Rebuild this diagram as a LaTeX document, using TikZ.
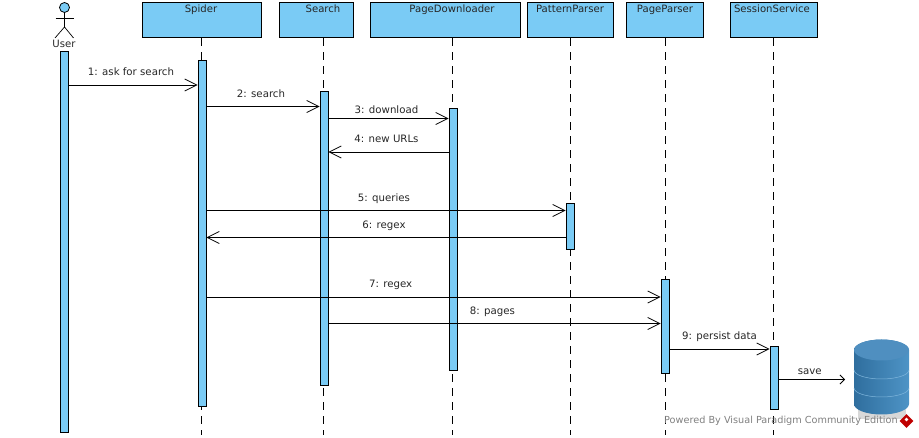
\documentclass[tikz,border=0pt]{standalone}
\usepackage{fontspec}
\setmainfont{DejaVu Sans}
\usetikzlibrary{arrows.meta,shapes.geometric}
\definecolor{vpblue}{HTML}{7ACBF5}
\definecolor{dbdark}{HTML}{2F6E9E}
\definecolor{dblight}{HTML}{4E94C6}
\definecolor{dbtop}{HTML}{4F8FC0}
\definecolor{dbline}{HTML}{7FB6DC}
\tikzset{
  lifebox/.style={draw=black,fill=vpblue,line width=0.9pt,anchor=north west,inner sep=0pt},
  boxlabel/.style={font=\fontsize{10.1}{12}\selectfont,text=black!85,anchor=base,inner sep=0pt},
  bar/.style={draw=black,fill=vpblue,line width=0.9pt,inner sep=0pt,anchor=north,minimum width=8pt},
  lifeline/.style={draw=black,line width=0.8pt,dash pattern=on 8pt off 6pt},
  msg/.style={draw=black,line width=0.8pt,-{Straight Barb[length=12pt,width=12pt,line width=0.8pt]}},
  msgsmall/.style={draw=black,line width=0.8pt,-{Straight Barb[length=4.5pt,width=9pt,line width=0.8pt]}},
  msglabel/.style={font=\fontsize{10.2}{12}\selectfont,text=black!85,above,inner sep=0pt,text depth=0pt,yshift=9pt,xshift=-2pt}
}
\begin{document}
\begin{tikzpicture}[x=1pt,y=-1pt]
  \useasboundingbox (0,0) rectangle (919,438);

  % lifeline heads
  \node [lifebox,minimum width=119pt,minimum height=35pt] (spider) at (142,2.5) {};
  \node [lifebox,minimum width=74pt,minimum height=35pt] (search) at (279,2.5) {};
  \node [lifebox,minimum width=150pt,minimum height=35pt] (down) at (370,2.5) {};
  \node [lifebox,minimum width=86pt,minimum height=35pt] (pattern) at (527,2.5) {};
  \node [lifebox,minimum width=77pt,minimum height=35pt] (parser) at (626,2.5) {};
  \node [lifebox,minimum width=87pt,minimum height=35pt] (session) at (730,2.5) {};

  \node [boxlabel] at (201,13) {Spider};
  \node [boxlabel] at (323,13) {Search};
  \node [boxlabel] at (452,13) {PageDownloader};
  \node [boxlabel] at (570,13) {PatternParser};
  \node [boxlabel] at (665,13) {PageParser};
  \node [boxlabel] at (772,13) {SessionService};

  % dashed lines
  \coordinate (end) at (0,435);
  \draw [lifeline] (spider.south -| 201,0) -- (201,0 |- end);
  \draw [lifeline] (search.south -| 323,0) -- (323,0 |- end);
  \draw [lifeline] (down.south -| 452.5,0) -- (452.5,0 |- end);
  \draw [lifeline] (pattern.south -| 570,0) -- (570,0 |- end);
  \draw [lifeline] (parser.south -| 665,0) -- (665,0 |- end);
  \draw [lifeline] (session.south -| 773,0) -- (773,0 |- end);

  % activation bars
  \node [bar,minimum height=381pt] (userbar) at (64,51.5) {};
  \node [bar,minimum height=346pt] (spiderbar) at (202,60.5) {};
  \node [bar,minimum height=294pt] (searchbar) at (324,91) {};
  \node [bar,minimum height=262pt] (downbar) at (453,108.5) {};
  \node [bar,minimum height=46pt] (patternbar) at (570,203) {};
  \node [bar,minimum height=94pt] (parserbar) at (665,279) {};
  \node [bar,minimum height=63pt] (sessionbar) at (774,346) {};

  % actor
  \node [circle,draw=black,fill=vpblue,line width=0.8pt,minimum size=10pt,inner sep=0pt] (head) at (64.5,7.5) {};
  \coordinate (hip) at (64.5,27);
  \coordinate (armleft) at (55.5,18.5);
  \coordinate (armright) at (73.5,18.5);
  \coordinate (footleft) at (55,38);
  \coordinate (footright) at (73.5,38);
  \draw [line width=0.7pt] (head) -- (hip);
  \draw [line width=0.7pt] (armleft) -- (armright);
  \draw [line width=0.7pt] (footleft) -- (hip) -- (footright);
  \node [boxlabel] (user) at (64,48) {User};

  % messages
  \coordinate (m1) at (0,85);
  \coordinate (m2) at (0,106.5);
  \coordinate (m3) at (0,118.5);
  \coordinate (m4) at (0,152);
  \coordinate (m5) at (0,210.5);
  \coordinate (m6) at (0,237.5);
  \coordinate (m7) at (0,297);
  \coordinate (m8) at (0,323.5);
  \coordinate (m9) at (0,349);
  \coordinate (m10) at (0,379.5);
  \coordinate (dbend) at (845,0);

  \draw [msg] (userbar.east |- m1) -- node [msglabel] {1: ask for search} (spiderbar.west |- m1);
  \draw [msg] (spiderbar.east |- m2) -- node [msglabel] {2: search} (searchbar.west |- m2);
  \draw [msg] (searchbar.east |- m3) -- node [msglabel,yshift=-4pt] {3: download} (downbar.west |- m3);
  \draw [msg] (downbar.west |- m4) -- node [msglabel] {4: new URLs} (searchbar.east |- m4);
  \draw [msg] (spiderbar.east |- m5) -- node [msglabel] {5: queries} (patternbar.west |- m5);
  \draw [msg] (patternbar.west |- m6) -- node [msglabel] {6: regex} (spiderbar.east |- m6);
  \draw [msg] (spiderbar.east |- m7) -- node [msglabel,pos=0.41] {7: regex} (parserbar.west |- m7);
  \draw [msg] (searchbar.east |- m8) -- node [msglabel] {8: pages} (parserbar.west |- m8);
  \draw [msg] (parserbar.east |- m9) -- node [msglabel,xshift=2pt] {9: persist data} (sessionbar.west |- m9);
  \draw [msgsmall] (sessionbar.east |- m10) -- node [msglabel,yshift=-4pt] {save} (dbend |- m10);

  % database
  \fill [black!30,opacity=0.5] (858,408) rectangle (906,419);
  \path [left color=dbdark,right color=dblight] (854,350) -- (854,404)
    arc [start angle=180,end angle=360,x radius=27.5pt,y radius=10.5pt] -- (909,350)
    arc [start angle=0,end angle=180,x radius=27.5pt,y radius=10.5pt] -- cycle;
  \fill [dbtop] (881.5,350) ellipse [x radius=27.5pt,y radius=10.5pt];
  \draw [dbline,line width=0.5pt] (854,370) arc [start angle=180,end angle=360,x radius=27.5pt,y radius=9pt];
  \draw [dbline,line width=0.5pt] (854,388) arc [start angle=180,end angle=360,x radius=27.5pt,y radius=9pt];

  % footer
  \node [font=\fontsize{9.7}{11}\selectfont,text=black!50,inner sep=0pt,anchor=west] (powered) at (664,421) {Powered By Visual Paradigm Community Edition};
  \node [diamond,fill=red!75!black,minimum size=14pt,inner sep=0pt] (logo) at (906.5,421) {};
  \node [diamond,fill=white,minimum size=4pt,inner sep=0pt] (logospot) at (906.5,419.5) {};
\end{tikzpicture}
\end{document}
